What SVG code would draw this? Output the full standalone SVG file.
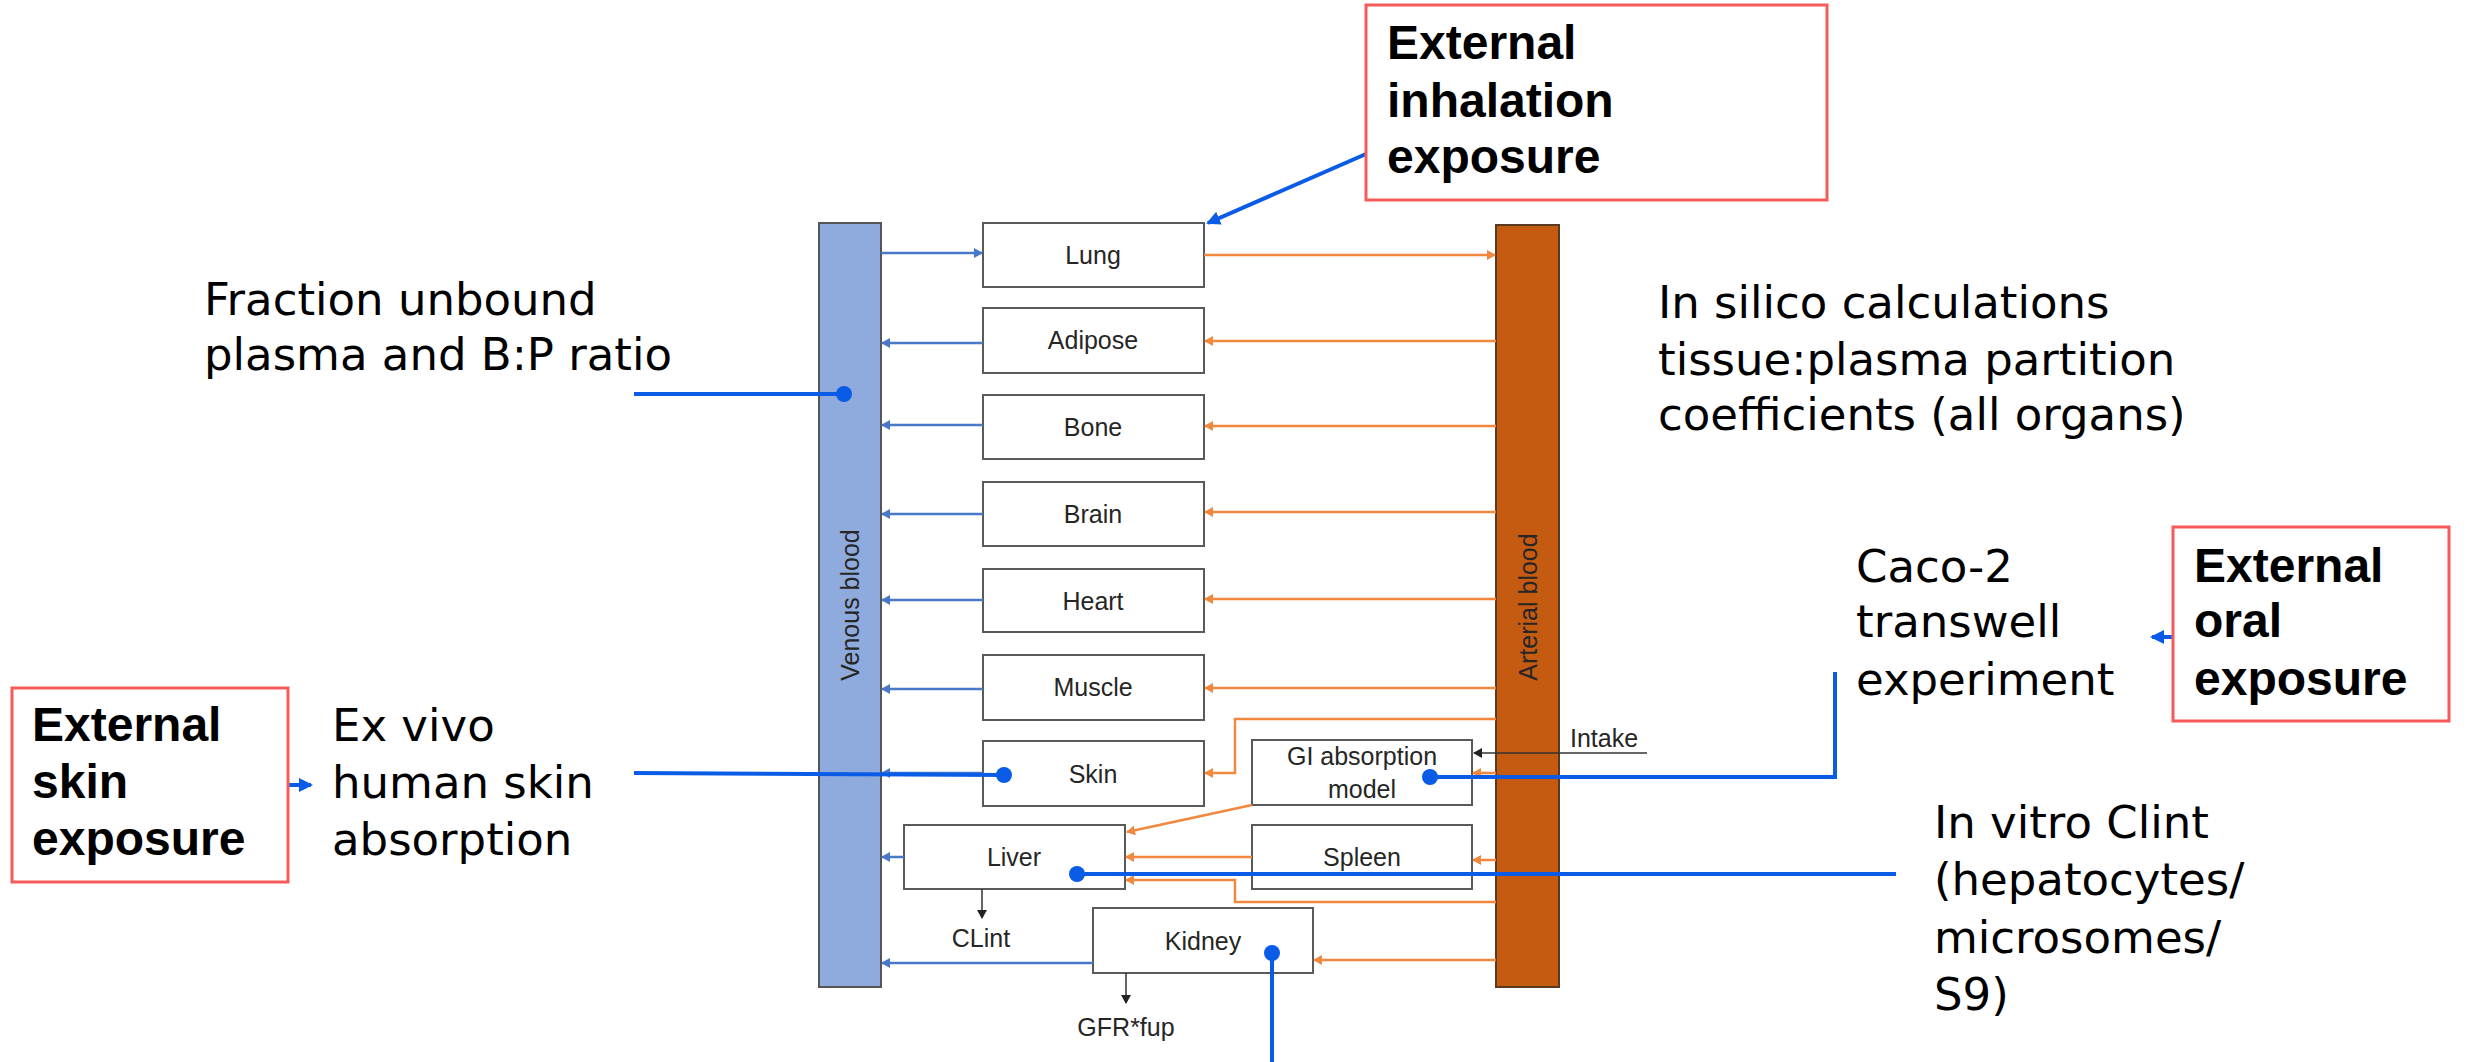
<svg xmlns="http://www.w3.org/2000/svg" width="2473" height="1062" viewBox="0 0 2473 1062">
<style>
.bg{fill:#ffffff}
.box{fill:#ffffff;stroke:#5a5a5a;stroke-width:2}
.lbl{font-family:"Liberation Sans",Arial,sans-serif;font-size:25px;fill:#262626;text-anchor:middle}
.bar-lbl{font-family:"Liberation Sans",Arial,sans-serif;font-size:25px;fill:#262626;text-anchor:middle}
.note{font-family:"DejaVu Sans","Liberation Sans",sans-serif;font-size:45px;fill:#000}
.bold{font-family:"Liberation Sans",Arial,sans-serif;font-size:48px;font-weight:bold;fill:#000}
.redbox{fill:#ffffff;stroke:#f65b5b;stroke-width:3}
.bl{stroke:#4a78c8;stroke-width:2.5;fill:none}
.or{stroke:#f0883e;stroke-width:2.5;fill:none}
.bk{stroke:#333;stroke-width:1.5;fill:none}
.ann{stroke:#0a5ce6;stroke-width:4;fill:none}
.dot{fill:#0a5ce6}
</style>
<defs>
<marker id="mb" markerUnits="userSpaceOnUse" markerWidth="9" markerHeight="10" refX="8" refY="5" orient="auto"><path d="M0,0 L9,5 L0,10 z" fill="#4a78c8"/></marker>
<marker id="mo" markerUnits="userSpaceOnUse" markerWidth="9" markerHeight="10" refX="8" refY="5" orient="auto"><path d="M0,0 L9,5 L0,10 z" fill="#f0883e"/></marker>
<marker id="mk" markerUnits="userSpaceOnUse" markerWidth="9" markerHeight="10" refX="8" refY="5" orient="auto"><path d="M0,0 L9,5 L0,10 z" fill="#222"/></marker>
<marker id="ma" markerUnits="userSpaceOnUse" markerWidth="14" markerHeight="14" refX="12" refY="7" orient="auto"><path d="M0,0 L14,7 L0,14 z" fill="#0a5ce6"/></marker>
</defs>
<rect class="bg" x="0" y="0" width="2473" height="1062"/>

<g id="venous-blood">
<rect x="819" y="223" width="62" height="764" fill="#8faadc" stroke="#555" stroke-width="2"/>
<text class="bar-lbl" transform="translate(859,605) rotate(-90)">Venous blood</text>
</g>
<g id="arterial-blood">
<rect x="1496" y="225" width="63" height="762" fill="#c55a11" stroke="#5a3a20" stroke-width="2"/>
<text class="bar-lbl" transform="translate(1537,607) rotate(-90)">Arterial blood</text>
</g>

<g id="lung"><rect class="box" x="983" y="223" width="221" height="64"/><text class="lbl" x="1093" y="264">Lung</text></g>
<g id="adipose"><rect class="box" x="983" y="308" width="221" height="65"/><text class="lbl" x="1093" y="349">Adipose</text></g>
<g id="bone"><rect class="box" x="983" y="395" width="221" height="64"/><text class="lbl" x="1093" y="436">Bone</text></g>
<g id="brain"><rect class="box" x="983" y="482" width="221" height="64"/><text class="lbl" x="1093" y="523">Brain</text></g>
<g id="heart"><rect class="box" x="983" y="569" width="221" height="63"/><text class="lbl" x="1093" y="610">Heart</text></g>
<g id="muscle"><rect class="box" x="983" y="655" width="221" height="65"/><text class="lbl" x="1093" y="696">Muscle</text></g>
<g id="skin"><rect class="box" x="983" y="741" width="221" height="65"/><text class="lbl" x="1093" y="783">Skin</text></g>
<g id="gi"><rect class="box" x="1252" y="740" width="220" height="65"/><text class="lbl" x="1362" y="765">GI absorption</text><text class="lbl" x="1362" y="798">model</text></g>
<g id="liver"><rect class="box" x="904" y="825" width="221" height="64"/><text class="lbl" x="1014" y="866">Liver</text></g>
<g id="spleen"><rect class="box" x="1252" y="825" width="220" height="64"/><text class="lbl" x="1362" y="866">Spleen</text></g>
<g id="kidney"><rect class="box" x="1093" y="908" width="220" height="65"/><text class="lbl" x="1203" y="950">Kidney</text></g>

<g id="clint"><text class="lbl" x="981" y="947">CLint</text></g>
<g id="gfr"><text class="lbl" x="1126" y="1036">GFR*fup</text></g>
<g id="intake"><text class="lbl" x="1604" y="747">Intake</text></g>

<g id="connectors">
<line class="bl" x1="881" y1="253" x2="982" y2="253" marker-end="url(#mb)"/>
<line class="or" x1="1204" y1="255" x2="1495" y2="255" marker-end="url(#mo)"/>
<line class="bl" x1="983" y1="343" x2="882" y2="343" marker-end="url(#mb)"/>
<line class="or" x1="1496" y1="341" x2="1205" y2="341" marker-end="url(#mo)"/>
<line class="bl" x1="983" y1="425" x2="882" y2="425" marker-end="url(#mb)"/>
<line class="or" x1="1496" y1="426" x2="1205" y2="426" marker-end="url(#mo)"/>
<line class="bl" x1="983" y1="514" x2="882" y2="514" marker-end="url(#mb)"/>
<line class="or" x1="1496" y1="512" x2="1205" y2="512" marker-end="url(#mo)"/>
<line class="bl" x1="983" y1="600" x2="882" y2="600" marker-end="url(#mb)"/>
<line class="or" x1="1496" y1="599" x2="1205" y2="599" marker-end="url(#mo)"/>
<line class="bl" x1="983" y1="689" x2="882" y2="689" marker-end="url(#mb)"/>
<line class="or" x1="1496" y1="688" x2="1205" y2="688" marker-end="url(#mo)"/>
<line class="bl" x1="983" y1="773" x2="882" y2="773" marker-end="url(#mb)"/>
<polyline class="or" points="1496,719 1235,719 1235,773 1205,773" marker-end="url(#mo)"/>
<line class="bk" x1="1647" y1="753" x2="1474" y2="753" marker-end="url(#mk)"/>
<line class="or" x1="1496" y1="773" x2="1473" y2="773" marker-end="url(#mo)"/>
<line class="or" x1="1252" y1="805" x2="1127" y2="832" marker-end="url(#mo)"/>
<line class="or" x1="1252" y1="857" x2="1126" y2="857" marker-end="url(#mo)"/>
<line class="or" x1="1496" y1="860" x2="1473" y2="860" marker-end="url(#mo)"/>
<polyline class="or" points="1496,902 1235,902 1235,880 1126,880" marker-end="url(#mo)"/>
<line class="bl" x1="904" y1="857" x2="882" y2="857" marker-end="url(#mb)"/>
<line class="bk" x1="982" y1="889" x2="982" y2="918" marker-end="url(#mk)"/>
<line class="bl" x1="1093" y1="963" x2="882" y2="963" marker-end="url(#mb)"/>
<line class="or" x1="1496" y1="960" x2="1314" y2="960" marker-end="url(#mo)"/>
<line class="bk" x1="1126" y1="973" x2="1126" y2="1003" marker-end="url(#mk)"/>

<line class="ann" x1="1366" y1="154" x2="1208" y2="223" stroke-width="3" marker-end="url(#ma)"/>
<line class="ann" x1="634" y1="394" x2="844" y2="394"/>
<circle class="dot" cx="844" cy="394" r="8"/>
<line class="ann" x1="634" y1="773" x2="1004" y2="775"/>
<circle class="dot" cx="1004" cy="775" r="8"/>
<polyline class="ann" points="1430,777 1835,777 1835,672"/>
<circle class="dot" cx="1430" cy="777" r="8"/>
<line class="ann" x1="1077" y1="874" x2="1896" y2="874"/>
<circle class="dot" cx="1077" cy="874" r="8"/>
<line class="ann" x1="1272" y1="953" x2="1272" y2="1062"/>
<circle class="dot" cx="1272" cy="953" r="8"/>
<line class="ann" x1="288" y1="785" x2="311" y2="785" stroke-width="3" marker-end="url(#ma)"/>
<line class="ann" x1="2173" y1="637" x2="2152" y2="637" stroke-width="3" marker-end="url(#ma)"/>
</g>

<g id="inhalation-exposure">
<rect class="redbox" x="1366" y="5" width="461" height="195"/>
<text class="bold" x="1387" y="59">External</text>
<text class="bold" x="1387" y="117">inhalation</text>
<text class="bold" x="1387" y="173">exposure</text>
</g>
<g id="skin-exposure">
<rect class="redbox" x="12" y="688" width="276" height="194"/>
<text class="bold" x="32" y="741">External</text>
<text class="bold" x="32" y="798">skin</text>
<text class="bold" x="32" y="855">exposure</text>
</g>
<g id="oral-exposure">
<rect class="redbox" x="2173" y="527" width="276" height="194"/>
<text class="bold" x="2194" y="582">External</text>
<text class="bold" x="2194" y="637">oral</text>
<text class="bold" x="2194" y="695">exposure</text>
</g>

<g id="fraction-unbound">
<text class="note" x="204" y="315">Fraction unbound</text>
<text class="note" x="204" y="370">plasma and B:P ratio</text>
</g>
<g id="ex-vivo">
<text class="note" x="332" y="741">Ex vivo</text>
<text class="note" x="332" y="798">human skin</text>
<text class="note" x="332" y="855">absorption</text>
</g>
<g id="in-silico">
<text class="note" x="1658" y="318">In silico calculations</text>
<text class="note" x="1658" y="375">tissue:plasma partition</text>
<text class="note" x="1658" y="430">coefficients (all organs)</text>
</g>
<g id="caco2">
<text class="note" x="1856" y="582">Caco-2</text>
<text class="note" x="1856" y="637">transwell</text>
<text class="note" x="1856" y="695">experiment</text>
</g>
<g id="in-vitro-clint">
<text class="note" x="1934" y="838">In vitro Clint</text>
<text class="note" x="1934" y="895">(hepatocytes/</text>
<text class="note" x="1934" y="953">microsomes/</text>
<text class="note" x="1934" y="1010">S9)</text>
</g>
</svg>
